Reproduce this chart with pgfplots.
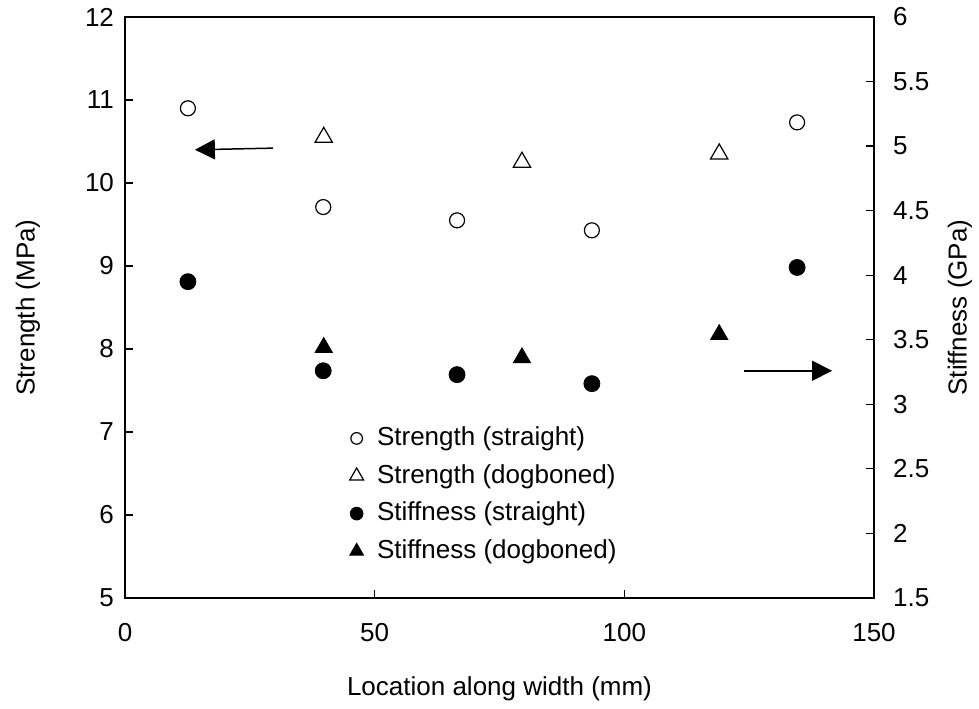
\documentclass[border=0pt]{standalone}
\usepackage{fontspec}
\setmainfont{Liberation Sans}
\usepackage{pgfplots}
\pgfplotsset{compat=1.18}
\usetikzlibrary{arrows.meta}
\newcommand{\chartfont}{\fontsize{13}{15.6}\selectfont}
\pgfplotsset{
  mybase/.style={
    scale only axis, width=374.5pt, height=290.5pt,
    xmin=0, xmax=150,
    tick align=inside,
    major tick length=4pt,
    axis line style={line width=1pt},
    every tick/.style={line width=0.6pt, black},
    /pgf/number format/assume math mode=true,
    tick label style={font=\chartfont},
    label style={font=\chartfont},
  },
}
\begin{document}
\begin{tikzpicture}
\begin{axis}[mybase,
  ymin=5, ymax=12, ytick={5,6,...,12},
  xtick={0,50,100,150},
  xtick pos=bottom, ytick pos=left,
  xticklabel style={yshift=-9pt},
  yticklabel style={xshift=-2pt},
  xlabel={Location along width (mm)},
  ylabel={Strength (MPa)},
  xlabel style={at={(axis description cs:0.5,0)}, anchor=center, yshift=-45.5pt},
  ylabel style={at={(axis description cs:0,0.5)}, anchor=center, yshift=48.5pt},
]
\coordinate (bl) at (rel axis cs:0,0);
\coordinate (tr) at (rel axis cs:1,1);
\addplot[only marks, mark=o, mark size=3.75pt, mark options={line width=0.6pt, black}]
  coordinates {(12.6,10.90) (39.7,9.71) (66.5,9.55) (93.5,9.43) (134.6,10.73)};
\addplot[only marks, mark=triangle, mark size=5pt, mark options={line width=0.6pt, black}]
  coordinates {(39.8,10.55) (79.5,10.25) (119,10.35)};
\draw[line width=0.75pt, -{Triangle[length=10pt,width=10pt]}] (axis cs:29.6,10.42) -- (axis cs:14.0,10.40);
\end{axis}
\begin{axis}[mybase,
  ymin=1.5, ymax=6, ytick={1.5,2,...,6},
  hide x axis,
  axis y line*=right,
  ytick pos=right,
  yticklabel style={xshift=6pt},
  ylabel={Stiffness (GPa)},
  ylabel style={at={(axis description cs:1,0.5)}, anchor=center, yshift=-43pt},
  legend cell align=left,
  legend image code/.code={\path (0pt,0pt) (11.4pt,0pt); \draw[#1] plot coordinates {(5.7pt,0pt)};},
  legend style={draw=none, fill=none, inner sep=0pt, at={(0.293,0.296)}, anchor=north west,
    font=\chartfont, row sep=6.8pt,
    nodes={inner sep=0pt, text height=9.5pt, text depth=2.5pt},
    /tikz/every odd column/.append style={column sep=4.3pt}},
]
\addlegendimage{only marks, mark=o, mark size=2.9pt, mark options={line width=0.6pt, black}}
\addlegendentry{Strength (straight)}
\addlegendimage{only marks, mark=triangle, mark size=4pt, mark options={line width=0.6pt, black}}
\addlegendentry{Strength (dogboned)}
\addlegendimage{only marks, mark=*, mark size=3.2pt, mark options={black, fill=black}}
\addlegendentry{Stiffness (straight)}
\addlegendimage{only marks, mark=triangle*, mark size=4pt, mark options={black, fill=black}}
\addlegendentry{Stiffness (dogboned)}
\addplot[forget plot, only marks, mark=*, mark size=4pt, mark options={black, fill=black}]
  coordinates {(12.6,3.95) (39.7,3.26) (66.5,3.23) (93.5,3.16) (134.6,4.06)};
\addplot[forget plot, only marks, mark=triangle*, mark size=5pt, mark options={black, fill=black}]
  coordinates {(39.8,3.44) (79.5,3.36) (119,3.54)};
\draw[line width=0.75pt, -{Triangle[length=10pt,width=10pt]}] (axis cs:124.0,3.26) -- (axis cs:141.6,3.26);
\end{axis}
\pgfresetboundingbox
\path (bl) +(-62.5pt,-55.5pt) (tr) +(52.5pt,8.5pt);
\end{tikzpicture}
\end{document}
